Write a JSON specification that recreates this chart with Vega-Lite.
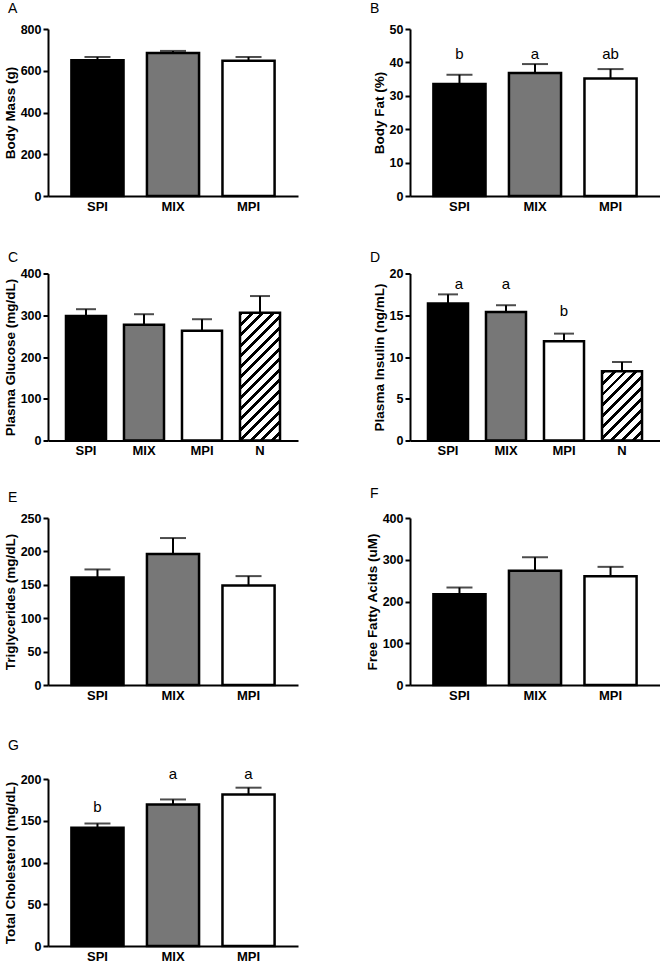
{
  "$schema": "https://vega.github.io/schema/vega-lite/v6.json",
  "padding": {"left": 3, "top": 2, "right": 0, "bottom": 0},
  "background": "white",
  "config": {
    "view": {"stroke": null},
    "font": "Liberation Sans",
    "axis": {"domainColor": "black", "domainWidth": 2, "tickColor": "black", "tickWidth": 2, "tickSize": 5, "labelColor": "black", "labelFont": "Liberation Sans", "labelFontWeight": "bold", "titleFont": "Liberation Sans", "titleFontWeight": "bold", "titleColor": "black", "grid": false, "labelOverlap": false},
    "axisX": {"ticks": false, "labelFontSize": 13, "labelPadding": 4, "labelAngle": 0, "title": null},
    "axisY": {"labelFontSize": 12.5, "labelPadding": 2, "titleFontSize": 13.5, "titlePadding": 3, "tickCount": 10},
    "title": {"font": "Liberation Sans", "fontSize": 14, "fontWeight": "normal", "anchor": "start", "frame": "group", "dx": -40, "color": "black"},
    "bar": {"stroke": "black", "strokeWidth": 2.5},
    "legend": {"disable": true}
  },
  "datasets": {
    "A": [{"group": "SPI", "mean": 650, "upper": 666}, {"group": "MIX", "mean": 685, "upper": 695}, {"group": "MPI", "mean": 648, "upper": 666}],
    "B": [{"group": "SPI", "mean": 33.5, "upper": 36.3, "letter": "b", "letter_y": 41}, {"group": "MIX", "mean": 36.8, "upper": 39.5, "letter": "a", "letter_y": 41}, {"group": "MPI", "mean": 35.2, "upper": 38.0, "letter": "ab", "letter_y": 41}],
    "C": [{"group": "SPI", "mean": 298, "upper": 314.5}, {"group": "MIX", "mean": 277, "upper": 302.5}, {"group": "MPI", "mean": 263, "upper": 290.5}, {"group": "N", "mean": 306, "upper": 346}],
    "D": [{"group": "SPI", "mean": 16.4, "upper": 17.5, "letter": "a", "letter_y": 18.2}, {"group": "MIX", "mean": 15.4, "upper": 16.2, "letter": "a", "letter_y": 18.2}, {"group": "MPI", "mean": 11.9, "upper": 12.8, "letter": "b", "letter_y": 14.9}, {"group": "N", "mean": 8.3, "upper": 9.4}],
    "E": [{"group": "SPI", "mean": 161, "upper": 173}, {"group": "MIX", "mean": 196, "upper": 220}, {"group": "MPI", "mean": 149, "upper": 163}],
    "F": [{"group": "SPI", "mean": 217.5, "upper": 233.5}, {"group": "MIX", "mean": 273.5, "upper": 306}, {"group": "MPI", "mean": 260.6, "upper": 283}],
    "G": [{"group": "SPI", "mean": 141.6, "upper": 146.7, "letter": "b", "letter_y": 160.8}, {"group": "MIX", "mean": 169.5, "upper": 175.5, "letter": "a", "letter_y": 200}, {"group": "MPI", "mean": 181.5, "upper": 189.6, "letter": "a", "letter_y": 200}]
  },
  "spacing": 37,
  "vconcat": [
    {
      "columns": 2,
      "bounds": "flush",
      "spacing": {"row": 77.5, "column": 112},
      "concat": [
        {
          "title": {"text": "A", "offset": 7},
          "width": 250, "height": 167,
          "data": {"name": "A"},
          "encoding": {"x": {"field": "group", "type": "nominal", "sort": ["SPI", "MIX", "MPI"], "scale": {"padding": 0.31}, "axis": {"title": null}}},
          "layer": [
            {"mark": {"type": "bar"}, "encoding": {"y": {"field": "mean", "type": "quantitative", "scale": {"domain": [0, 800], "nice": false}, "axis": {"title": "Body Mass (g)", "values": [0, 200, 400, 600, 800], "tickCount": 10}}, "color": {"field": "group", "type": "nominal", "scale": {"domain": ["SPI", "MIX", "MPI"], "range": ["#000000", "#777777", "#ffffff"]}, "legend": null}}},
            {"mark": {"type": "rule", "strokeWidth": 2, "color": "black"}, "encoding": {"y": {"field": "mean", "type": "quantitative"}, "y2": {"field": "upper"}}},
            {"mark": {"type": "tick", "size": 26, "thickness": 2, "color": "black"}, "encoding": {"y": {"field": "upper", "type": "quantitative"}}}
          ]
        },
        {
          "title": {"text": "B", "offset": 7},
          "width": 250, "height": 167,
          "data": {"name": "B"},
          "encoding": {"x": {"field": "group", "type": "nominal", "sort": ["SPI", "MIX", "MPI"], "scale": {"padding": 0.31}, "axis": {"title": null}}},
          "layer": [
            {"mark": {"type": "bar"}, "encoding": {"y": {"field": "mean", "type": "quantitative", "scale": {"domain": [0, 50], "nice": false}, "axis": {"title": "Body Fat (%)", "values": [0, 10, 20, 30, 40, 50], "tickCount": 10}}, "color": {"field": "group", "type": "nominal", "scale": {"domain": ["SPI", "MIX", "MPI"], "range": ["#000000", "#777777", "#ffffff"]}, "legend": null}}},
            {"mark": {"type": "rule", "strokeWidth": 2, "color": "black"}, "encoding": {"y": {"field": "mean", "type": "quantitative"}, "y2": {"field": "upper"}}},
            {"mark": {"type": "tick", "size": 26, "thickness": 2, "color": "black"}, "encoding": {"y": {"field": "upper", "type": "quantitative"}}},
            {"mark": {"type": "text", "fontSize": 15, "baseline": "alphabetic", "align": "center", "color": "black"}, "encoding": {"y": {"field": "letter_y", "type": "quantitative"}, "text": {"field": "letter"}}}
          ]
        },
        {
          "title": {"text": "C", "offset": 3},
          "width": 250, "height": 167,
          "data": {"name": "C"},
          "encoding": {"x": {"field": "group", "type": "nominal", "sort": ["SPI", "MIX", "MPI", "N"], "scale": {"padding": 0.31}, "axis": {"title": null}}},
          "layer": [
            {"transform": [{"filter": "datum.group !== 'N'"}], "mark": {"type": "bar"}, "encoding": {"y": {"field": "mean", "type": "quantitative", "scale": {"domain": [0, 400], "nice": false}, "axis": {"title": "Plasma Glucose (mg/dL)", "values": [0, 100, 200, 300, 400], "tickCount": 10}}, "color": {"field": "group", "type": "nominal", "scale": {"domain": ["SPI", "MIX", "MPI"], "range": ["#000000", "#777777", "#ffffff"]}, "legend": null}}},
            {"transform": [{"filter": "datum.group === 'N'"}], "mark": {"type": "bar", "fill": {"gradient": "linear", "x1": 0, "y1": 0, "x2": 0.3745, "y2": 1.1959, "stops": [
              {"offset": 0, "color": "#000"}, {"offset": 0.024, "color": "#000"}, {"offset": 0.024, "color": "#fff"}, {"offset": 0.0625, "color": "#fff"},
              {"offset": 0.0625, "color": "#000"}, {"offset": 0.0865, "color": "#000"}, {"offset": 0.0865, "color": "#fff"}, {"offset": 0.125, "color": "#fff"},
              {"offset": 0.125, "color": "#000"}, {"offset": 0.149, "color": "#000"}, {"offset": 0.149, "color": "#fff"}, {"offset": 0.1875, "color": "#fff"},
              {"offset": 0.1875, "color": "#000"}, {"offset": 0.2115, "color": "#000"}, {"offset": 0.2115, "color": "#fff"}, {"offset": 0.25, "color": "#fff"},
              {"offset": 0.25, "color": "#000"}, {"offset": 0.274, "color": "#000"}, {"offset": 0.274, "color": "#fff"}, {"offset": 0.3125, "color": "#fff"},
              {"offset": 0.3125, "color": "#000"}, {"offset": 0.3365, "color": "#000"}, {"offset": 0.3365, "color": "#fff"}, {"offset": 0.375, "color": "#fff"},
              {"offset": 0.375, "color": "#000"}, {"offset": 0.399, "color": "#000"}, {"offset": 0.399, "color": "#fff"}, {"offset": 0.4375, "color": "#fff"},
              {"offset": 0.4375, "color": "#000"}, {"offset": 0.4615, "color": "#000"}, {"offset": 0.4615, "color": "#fff"}, {"offset": 0.5, "color": "#fff"},
              {"offset": 0.5, "color": "#000"}, {"offset": 0.524, "color": "#000"}, {"offset": 0.524, "color": "#fff"}, {"offset": 0.5625, "color": "#fff"},
              {"offset": 0.5625, "color": "#000"}, {"offset": 0.5865, "color": "#000"}, {"offset": 0.5865, "color": "#fff"}, {"offset": 0.625, "color": "#fff"},
              {"offset": 0.625, "color": "#000"}, {"offset": 0.649, "color": "#000"}, {"offset": 0.649, "color": "#fff"}, {"offset": 0.6875, "color": "#fff"},
              {"offset": 0.6875, "color": "#000"}, {"offset": 0.7115, "color": "#000"}, {"offset": 0.7115, "color": "#fff"}, {"offset": 0.75, "color": "#fff"},
              {"offset": 0.75, "color": "#000"}, {"offset": 0.774, "color": "#000"}, {"offset": 0.774, "color": "#fff"}, {"offset": 0.8125, "color": "#fff"},
              {"offset": 0.8125, "color": "#000"}, {"offset": 0.8365, "color": "#000"}, {"offset": 0.8365, "color": "#fff"}, {"offset": 0.875, "color": "#fff"},
              {"offset": 0.875, "color": "#000"}, {"offset": 0.899, "color": "#000"}, {"offset": 0.899, "color": "#fff"}, {"offset": 0.9375, "color": "#fff"},
              {"offset": 0.9375, "color": "#000"}, {"offset": 0.9615, "color": "#000"}, {"offset": 0.9615, "color": "#fff"}, {"offset": 1, "color": "#fff"}
            ]}}, "encoding": {"y": {"field": "mean", "type": "quantitative"}}},
            {"mark": {"type": "rule", "strokeWidth": 2, "color": "black"}, "encoding": {"y": {"field": "mean", "type": "quantitative"}, "y2": {"field": "upper"}}},
            {"mark": {"type": "tick", "size": 20, "thickness": 2, "color": "black"}, "encoding": {"y": {"field": "upper", "type": "quantitative"}}}
          ]
        },
        {
          "title": {"text": "D", "offset": 3},
          "width": 250, "height": 167,
          "data": {"name": "D"},
          "encoding": {"x": {"field": "group", "type": "nominal", "sort": ["SPI", "MIX", "MPI", "N"], "scale": {"padding": 0.31}, "axis": {"title": null}}},
          "layer": [
            {"transform": [{"filter": "datum.group !== 'N'"}], "mark": {"type": "bar"}, "encoding": {"y": {"field": "mean", "type": "quantitative", "scale": {"domain": [0, 20], "nice": false}, "axis": {"title": "Plasma Insulin (ng/mL)", "values": [0, 5, 10, 15, 20], "tickCount": 10}}, "color": {"field": "group", "type": "nominal", "scale": {"domain": ["SPI", "MIX", "MPI"], "range": ["#000000", "#777777", "#ffffff"]}, "legend": null}}},
            {"transform": [{"filter": "datum.group === 'N'"}], "mark": {"type": "bar", "fill": {"gradient": "linear", "x1": 0, "y1": 0, "x2": 0.6829, "y2": 1.183, "stops": [
              {"offset": 0, "color": "#000"}, {"offset": 0.036, "color": "#000"}, {"offset": 0.036, "color": "#fff"}, {"offset": 0.1, "color": "#fff"},
              {"offset": 0.1, "color": "#000"}, {"offset": 0.136, "color": "#000"}, {"offset": 0.136, "color": "#fff"}, {"offset": 0.2, "color": "#fff"},
              {"offset": 0.2, "color": "#000"}, {"offset": 0.236, "color": "#000"}, {"offset": 0.236, "color": "#fff"}, {"offset": 0.3, "color": "#fff"},
              {"offset": 0.3, "color": "#000"}, {"offset": 0.336, "color": "#000"}, {"offset": 0.336, "color": "#fff"}, {"offset": 0.4, "color": "#fff"},
              {"offset": 0.4, "color": "#000"}, {"offset": 0.436, "color": "#000"}, {"offset": 0.436, "color": "#fff"}, {"offset": 0.5, "color": "#fff"},
              {"offset": 0.5, "color": "#000"}, {"offset": 0.536, "color": "#000"}, {"offset": 0.536, "color": "#fff"}, {"offset": 0.6, "color": "#fff"},
              {"offset": 0.6, "color": "#000"}, {"offset": 0.636, "color": "#000"}, {"offset": 0.636, "color": "#fff"}, {"offset": 0.7, "color": "#fff"},
              {"offset": 0.7, "color": "#000"}, {"offset": 0.736, "color": "#000"}, {"offset": 0.736, "color": "#fff"}, {"offset": 0.8, "color": "#fff"},
              {"offset": 0.8, "color": "#000"}, {"offset": 0.836, "color": "#000"}, {"offset": 0.836, "color": "#fff"}, {"offset": 0.9, "color": "#fff"},
              {"offset": 0.9, "color": "#000"}, {"offset": 0.936, "color": "#000"}, {"offset": 0.936, "color": "#fff"}, {"offset": 1, "color": "#fff"}
            ]}}, "encoding": {"y": {"field": "mean", "type": "quantitative"}}},
            {"mark": {"type": "rule", "strokeWidth": 2, "color": "black"}, "encoding": {"y": {"field": "mean", "type": "quantitative"}, "y2": {"field": "upper"}}},
            {"mark": {"type": "tick", "size": 20, "thickness": 2, "color": "black"}, "encoding": {"y": {"field": "upper", "type": "quantitative"}}},
            {"transform": [{"filter": "datum.group === 'SPI'"}], "mark": {"type": "text", "fontSize": 15, "baseline": "alphabetic", "align": "center", "color": "black", "dx": 11}, "encoding": {"y": {"field": "letter_y", "type": "quantitative"}, "text": {"field": "letter"}}},
            {"transform": [{"filter": "isValid(datum.letter) && datum.group !== 'SPI'"}], "mark": {"type": "text", "fontSize": 15, "baseline": "alphabetic", "align": "center", "color": "black"}, "encoding": {"y": {"field": "letter_y", "type": "quantitative"}, "text": {"field": "letter"}}}
          ]
        },
        {
          "title": {"text": "E", "offset": 7},
          "width": 250, "height": 167,
          "data": {"name": "E"},
          "encoding": {"x": {"field": "group", "type": "nominal", "sort": ["SPI", "MIX", "MPI"], "scale": {"padding": 0.31}, "axis": {"title": null}}},
          "layer": [
            {"mark": {"type": "bar"}, "encoding": {"y": {"field": "mean", "type": "quantitative", "scale": {"domain": [0, 250], "nice": false}, "axis": {"title": "Triglycerides (mg/dL)", "values": [0, 50, 100, 150, 200, 250], "tickCount": 10}}, "color": {"field": "group", "type": "nominal", "scale": {"domain": ["SPI", "MIX", "MPI"], "range": ["#000000", "#777777", "#ffffff"]}, "legend": null}}},
            {"mark": {"type": "rule", "strokeWidth": 2, "color": "black"}, "encoding": {"y": {"field": "mean", "type": "quantitative"}, "y2": {"field": "upper"}}},
            {"mark": {"type": "tick", "size": 26, "thickness": 2, "color": "black"}, "encoding": {"y": {"field": "upper", "type": "quantitative"}}}
          ]
        },
        {
          "title": {"text": "F", "offset": 11},
          "width": 250, "height": 167,
          "data": {"name": "F"},
          "encoding": {"x": {"field": "group", "type": "nominal", "sort": ["SPI", "MIX", "MPI"], "scale": {"padding": 0.31}, "axis": {"title": null}}},
          "layer": [
            {"mark": {"type": "bar"}, "encoding": {"y": {"field": "mean", "type": "quantitative", "scale": {"domain": [0, 400], "nice": false}, "axis": {"title": "Free Fatty Acids (uM)", "values": [0, 100, 200, 300, 400], "tickCount": 10}}, "color": {"field": "group", "type": "nominal", "scale": {"domain": ["SPI", "MIX", "MPI"], "range": ["#000000", "#777777", "#ffffff"]}, "legend": null}}},
            {"mark": {"type": "rule", "strokeWidth": 2, "color": "black"}, "encoding": {"y": {"field": "mean", "type": "quantitative"}, "y2": {"field": "upper"}}},
            {"mark": {"type": "tick", "size": 26, "thickness": 2, "color": "black"}, "encoding": {"y": {"field": "upper", "type": "quantitative"}}}
          ]
        }
      ]
    },
    {
      "title": {"text": "G", "offset": 14},
      "width": 250, "height": 167,
      "data": {"name": "G"},
      "encoding": {"x": {"field": "group", "type": "nominal", "sort": ["SPI", "MIX", "MPI"], "scale": {"padding": 0.31}, "axis": {"title": null}}},
      "layer": [
        {"mark": {"type": "bar"}, "encoding": {"y": {"field": "mean", "type": "quantitative", "scale": {"domain": [0, 200], "nice": false}, "axis": {"title": "Total Cholesterol (mg/dL)", "values": [0, 50, 100, 150, 200], "tickCount": 10}}, "color": {"field": "group", "type": "nominal", "scale": {"domain": ["SPI", "MIX", "MPI"], "range": ["#000000", "#777777", "#ffffff"]}, "legend": null}}},
        {"mark": {"type": "rule", "strokeWidth": 2, "color": "black"}, "encoding": {"y": {"field": "mean", "type": "quantitative"}, "y2": {"field": "upper"}}},
        {"mark": {"type": "tick", "size": 26, "thickness": 2, "color": "black"}, "encoding": {"y": {"field": "upper", "type": "quantitative"}}},
        {"mark": {"type": "text", "fontSize": 15, "baseline": "alphabetic", "align": "center", "color": "black"}, "encoding": {"y": {"field": "letter_y", "type": "quantitative"}, "text": {"field": "letter"}}}
      ]
    }
  ]
}
